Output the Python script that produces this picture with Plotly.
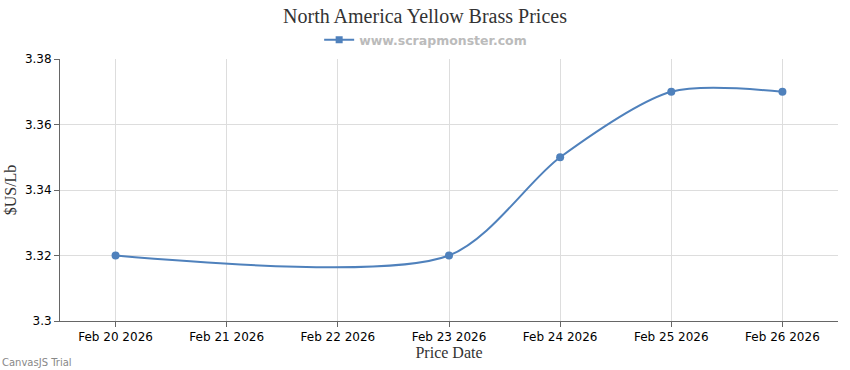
import plotly.graph_objects as go

dates = ["2026-02-20", "2026-02-23", "2026-02-24", "2026-02-25", "2026-02-26"]
prices = [3.32, 3.32, 3.35, 3.37, 3.37]
tick_vals = ["2026-02-20", "2026-02-21", "2026-02-22", "2026-02-23", "2026-02-24", "2026-02-25", "2026-02-26"]
tick_text = ["Feb 20 2026", "Feb 21 2026", "Feb 22 2026", "Feb 23 2026", "Feb 24 2026", "Feb 25 2026", "Feb 26 2026"]
y_ticks = [3.30, 3.32, 3.34, 3.36, 3.38]
y_text = ["3.3", "3.32", "3.34", "3.36", "3.38"]
series_name = "www.scrapmonster.com"

color = "#4F81BC"
fig = go.Figure()
fig.add_trace(go.Scatter(
    x=dates, y=prices, mode="lines+markers", name=series_name, showlegend=False,
    line=dict(color=color, width=2, shape="spline", smoothing=0.8),
    marker=dict(color=color, size=8, symbol="circle"),
))
# legend entry styled like the CanvasJS legend (line with square marker)
fig.add_trace(go.Scatter(
    x=[None], y=[None], mode="lines+markers", name=series_name,
    line=dict(color=color, width=2), marker=dict(color=color, size=7, symbol="square"),
))

PH = 262
fig.update_layout(
    width=850, height=370,
    margin=dict(l=60, r=12, t=59, b=49, autoexpand=False),
    paper_bgcolor="white", plot_bgcolor="white",
    title=dict(text="North America Yellow Brass Prices", x=0.5, xanchor="center",
               y=1 - 16 / 370, yanchor="middle", automargin=False,
               font=dict(family="Liberation Serif", size=20, color="#333333")),
    showlegend=True,
    legend=dict(orientation="h", x=0.47, xanchor="center", y=1 + 19 / PH, yanchor="middle",
                font=dict(family="DejaVu Sans", size=12.5, color="#bbbbbb", weight="bold"),
                itemwidth=30, bgcolor="rgba(0,0,0,0)"),
    xaxis=dict(
        type="date", range=["2026-02-19 12:00", "2026-02-26 12:00"], automargin=False,
        tickmode="array", tickvals=tick_vals, ticktext=tick_text,
        showgrid=True, gridcolor="#dddddd", gridwidth=1,
        showline=True, linecolor="#666666", linewidth=1,
        ticks="outside", ticklen=5, tickcolor="#666666",
        tickfont=dict(family="DejaVu Sans", size=12, color="#000000"),
        title=dict(text="Price Date", standoff=2,
                   font=dict(family="Liberation Serif", size=16, color="#333333")),
        zeroline=False,
    ),
    yaxis=dict(
        range=[3.30, 3.38], tickmode="array", tickvals=y_ticks, ticktext=y_text, automargin=False,
        showgrid=True, gridcolor="#dddddd", gridwidth=1,
        showline=True, linecolor="#666666", linewidth=1,
        ticks="outside", ticklen=5, tickcolor="#666666",
        tickfont=dict(family="DejaVu Sans", size=12, color="#000000"),
        title=dict(text="$US/Lb", standoff=4,
                   font=dict(family="Liberation Serif", size=16, color="#333333")),
        zeroline=False,
    ),
    annotations=[dict(text="CanvasJS Trial", xref="paper", yref="paper",
                      x=-60 / 778, y=-41 / PH, xanchor="left", yanchor="middle",
                      showarrow=False,
                      font=dict(family="DejaVu Sans", size=10, color="#888888"))],
)

fig.write_html("out.html", config={"displayModeBar": False},
               post_script="document.body.style.margin='0';document.body.style.overflow='hidden';")
